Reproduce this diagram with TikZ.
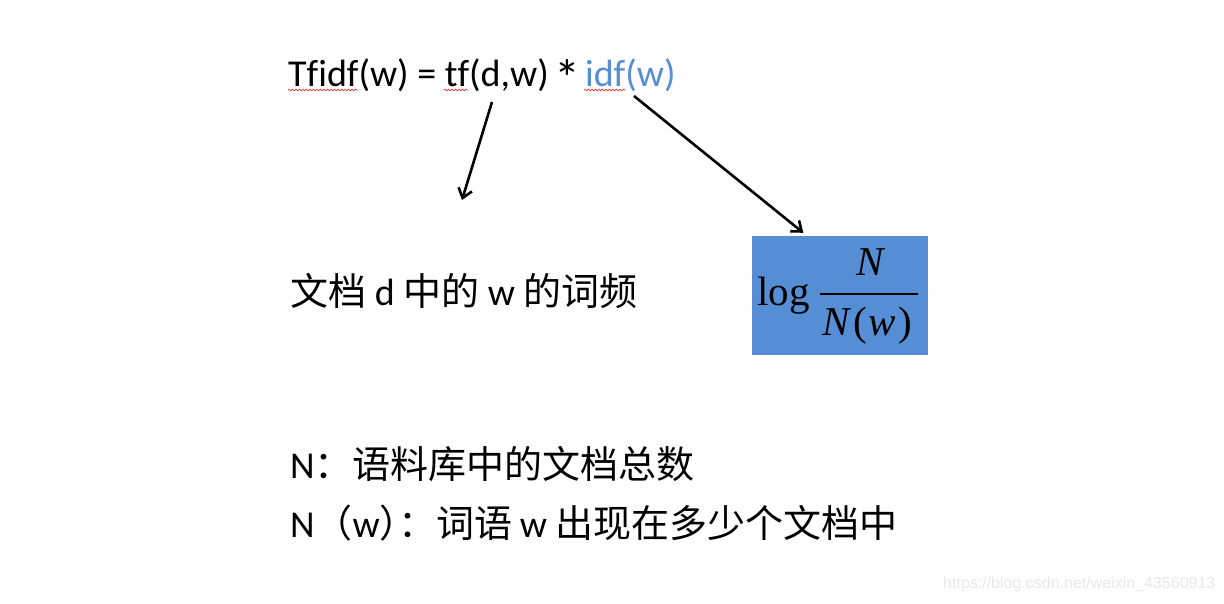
\documentclass[tikz,border=0pt]{standalone}
\usepackage{fontspec}
\setmainfont{Carlito}[Ligatures=NoCommon]
\newfontfamily\cjk{Noto Sans CJK SC}
\newfontfamily\tnr{Liberation Serif}
\newfontfamily\wmfont{Liberation Sans}
\usetikzlibrary{arrows.meta,decorations.pathmorphing}
\definecolor{pptblue}{HTML}{558ED5}
\definecolor{wavered}{HTML}{E03C3C}
\begin{document}
\begin{tikzpicture}[x=1pt,y=-1pt,
  txt/.style={inner sep=0pt, anchor=base west, font=\fontsize{38}{38}\selectfont},
  arr/.style={line width=2.6pt, -{Straight Barb[length=9pt,width=14pt,line width=2.6pt]}},
  wavy/.style={wavered, line width=0.7pt, decorate, decoration={snake, amplitude=0.9pt, segment length=3.5pt}},
  mathtxt/.style={inner sep=0pt, font=\fontsize{41}{41}\selectfont\tnr},
  boxstyle/.style={fill=pptblue, draw=none, minimum width=176pt, minimum height=119pt, inner sep=0pt}]
\useasboundingbox[fill=white] (0,0) rectangle (1224,603);

% top formula
\node[txt] (formula) at (288,86) {Tfidf(w) = tf(d,w) \makebox[19pt][c]{\raisebox{-10pt}{\fontsize{52}{52}\selectfont *}} \textcolor{pptblue}{idf(w)}};
\draw[wavy] (288,90) -- (358,90);
\draw[wavy] (444,90) -- (468,90);
\draw[wavy] (584,90) -- (625,90);

% idf box
\node[boxstyle] (idfbox) at (839.5,295.5) {};
\node[mathtxt, anchor=base west] (logtxt) at (757,305) {log};
\node[mathtxt, anchor=base] (numtxt) at (870,275) {\itshape N};
\coordinate (barL) at (820,294);
\coordinate (barR) at (918,294);
\draw[line width=1.8pt] (barL) -- (barR);
\node[mathtxt, anchor=base west] (dentxt) at (822,335) {\itshape N\hspace{4pt}\upshape(\hspace{1pt}\itshape w\hspace{3pt}\upshape)};

% arrows
\coordinate (tfpt) at (492,102);
\coordinate (tftip) at (462,200);
\draw[arr] (tfpt) -- (tftip);
\coordinate (idfpt) at (634,96);
\draw[arr] (idfpt) -- ([xshift=52pt,yshift=3pt]idfbox.north west);

% descriptions
\node[txt] (tfdesc) at (290,305) {{\cjk 文档} d {\cjk 中的} w {\cjk 的词频}};
\node[txt] (ndef) at (290,478) {N{\cjk ：语料库中的文档总数}};
\node[txt] (nwdef) at (290,537) {N{\cjk （}w{\cjk ）\hspace{-19pt}：词语}\hspace{7pt}w\hspace{8pt}{\cjk 出现在多少个文档中}};

% watermark
\node[anchor=base west, inner sep=0pt, font=\fontsize{16}{16}\selectfont\wmfont, text=black!9] (wm) at (943,588) {https://blog.csdn.net/weixin\_43560913};
\end{tikzpicture}
\end{document}
